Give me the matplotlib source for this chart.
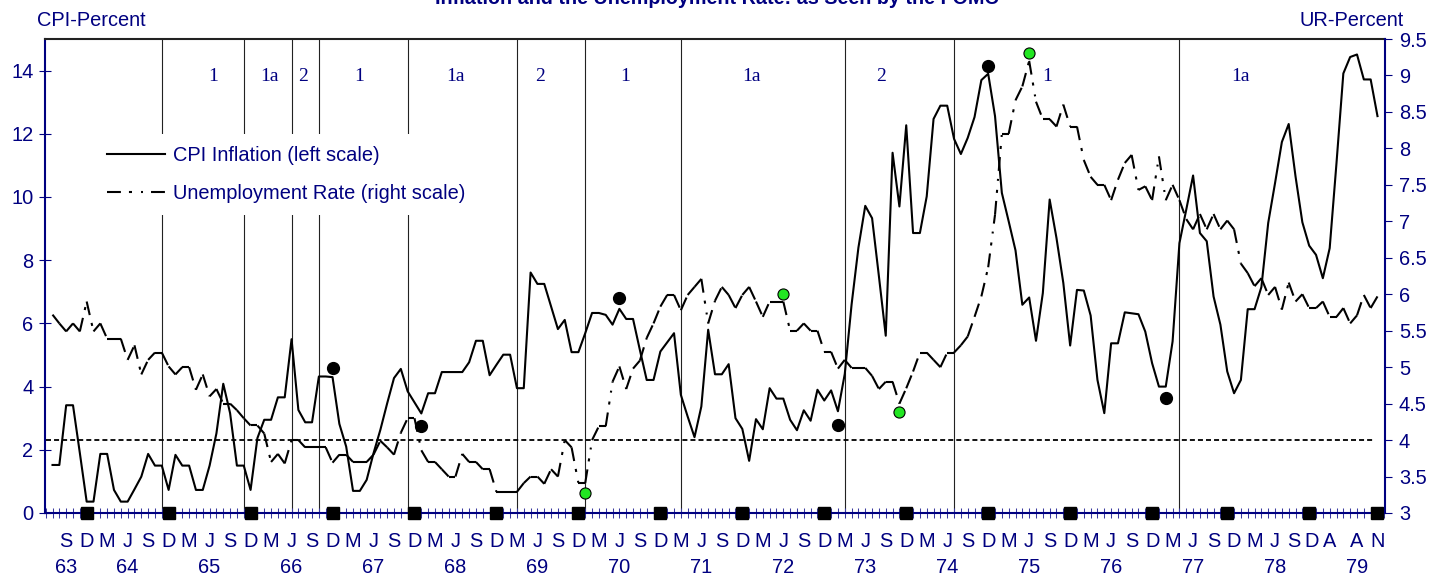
import numpy as np
import matplotlib
matplotlib.use("Agg")
import matplotlib.pyplot as plt
from matplotlib.collections import LineCollection
from matplotlib.lines import Line2D

plt.rcParams['font.family'] = ['Liberation Sans', 'DejaVu Sans']
plt.rcParams['lines.scale_dashes'] = False

navy = '#000080'
fs = 14.4

# meeting index (one tick per FOMC meeting, roughly monthly, first = Jul 63)
cpi = [1.52, 1.52, 3.41, 3.41, 1.90, 0.36, 0.36, 1.87, 1.87, 0.73,
       0.36, 0.36, 0.75, 1.15, 1.87, 1.50, 1.50, 0.73, 1.84, 1.50,
       1.50, 0.73, 0.73, 1.50, 2.52, 4.09, 3.16, 1.50, 1.50, 0.73,
       2.37, 2.95, 2.95, 3.66, 3.66, 5.50, 3.26, 2.87, 2.87, 4.32,
       4.32, 4.30, 2.82, 2.10, 0.70, 0.70, 1.05, 1.89, 2.63, 3.47,
       4.27, 4.56, 3.85, 3.50, 3.15, 3.79, 3.79, 4.46, 4.46, 4.46,
       4.46, 4.77, 5.45, 5.45, 4.36, 4.69, 5.01, 5.01, 3.95, 3.95,
       7.61, 7.25, 7.25, 6.54, 5.82, 6.11, 5.09, 5.09, 5.69, 6.33,
       6.33, 6.27, 5.96, 6.46, 6.14, 6.14, 5.16, 4.21, 4.21, 5.11,
       5.40, 5.69, 3.74, 3.05, 2.40, 3.37, 5.80, 4.39, 4.39, 4.71,
       3.00, 2.66, 1.65, 2.97, 2.65, 3.95, 3.62, 3.62, 2.95, 2.62,
       3.25, 2.92, 3.90, 3.56, 3.88, 3.22, 4.40, 6.60, 8.40, 9.72,
       9.33, 7.49, 5.61, 11.40, 9.70, 12.27, 8.86, 8.86, 10.02, 12.47,
       12.89, 12.89, 11.84, 11.36, 11.87, 12.53, 13.70, 13.90, 12.56, 10.13,
       9.23, 8.31, 6.59, 6.82, 5.45, 6.96, 9.92, 8.70, 7.28, 5.30,
       7.06, 7.04, 6.25, 4.21, 3.16, 5.37, 5.37, 6.35, 6.32, 6.29,
       5.74, 4.74, 4.00, 4.00, 5.43, 8.54, 9.60, 10.68, 8.86, 8.60,
       6.85, 5.96, 4.48, 3.79, 4.21, 6.45, 6.45, 7.15, 9.18, 10.44,
       11.74, 12.31, 10.65, 9.20, 8.46, 8.17, 7.43, 8.38, 11.08, 13.91,
       14.43, 14.51, 13.72, 13.72, 12.56]

ur = [5.72, 5.60, 5.49, 5.60, 5.49, 5.90, 5.49, 5.60, 5.39, 5.39,
      5.39, 5.10, 5.30, 4.90, 5.10, 5.20, 5.20, 5.01, 4.90, 5.00,
      5.00, 4.69, 4.90, 4.60, 4.70, 4.50, 4.50, 4.41, 4.30, 4.20,
      4.20, 4.09, 3.70, 3.81, 3.68, 4.00, 4.00, 3.90, 3.90, 3.90,
      3.90, 3.69, 3.80, 3.80, 3.70, 3.70, 3.70, 3.80, 3.99, 3.90,
      3.80, 4.10, 4.30, 4.30, 3.86, 3.70, 3.70, 3.60, 3.50, 3.50,
      3.81, 3.70, 3.70, 3.60, 3.60, 3.29, 3.29, 3.29, 3.29, 3.41,
      3.50, 3.50, 3.40, 3.60, 3.50, 4.00, 3.90, 3.41, 3.41, 4.00,
      4.19, 4.19, 4.80, 5.01, 4.70, 4.98, 5.09, 5.40, 5.60, 5.83,
      5.99, 5.99, 5.78, 5.99, 6.10, 6.21, 5.60, 5.91, 6.10, 5.99,
      5.81, 5.99, 6.10, 5.90, 5.69, 5.90, 5.90, 5.90, 5.50, 5.50,
      5.60, 5.50, 5.50, 5.21, 5.21, 4.98, 5.10, 4.99, 4.99, 4.99,
      4.88, 4.70, 4.80, 4.80, 4.50, 4.71, 4.94, 5.20, 5.20, 5.10,
      5.00, 5.20, 5.20, 5.30, 5.42, 5.69, 5.97, 6.37, 7.09, 8.20,
      8.20, 8.66, 8.85, 9.20, 8.64, 8.40, 8.40, 8.30, 8.60, 8.30,
      8.30, 7.84, 7.61, 7.50, 7.50, 7.29, 7.57, 7.80, 7.91, 7.43,
      7.48, 7.29, 7.89, 7.29, 7.50, 7.29, 7.03, 6.89, 7.10, 6.89,
      7.10, 6.89, 7.01, 6.89, 6.42, 6.29, 6.11, 6.22, 5.99, 6.10,
      5.79, 6.16, 5.90, 6.00, 5.81, 5.81, 5.90, 5.69, 5.69, 5.81,
      5.60, 5.71, 5.99, 5.81, 5.97]

meet = np.arange(1, len(cpi) + 1)

month_pos = list(range(3, 175, 3)) + [177, 180, 182.8, 185.4, 188, 192, 195]
month_lab = (['S', 'D', 'M', 'J'] * 15)[:len(range(3, 175, 3))] + ['M', 'J', 'S', 'D', 'A', 'A', 'N']
year_pos = [3] + list(range(12, 181, 12)) + [192]
year_lab = ['63', '64', '65', '66', '67', '68', '69', '70', '71', '72',
            '73', '74', '75', '76', '77', '78', '79']

dec_pos = list(range(6, 163, 12)) + [173, 185, 195]

regime_lines = [17, 29, 36, 40, 53, 69, 79, 93, 117, 133, 166]
regime_pos = [24.5, 32.7, 37.7, 45.9, 60.0, 72.4, 84.8, 103.3, 122.3, 146.7, 174.9]
regime_lab = ['1', '1a', '2', '1', '1a', '2', '1', '1a', '2', '1', '1a']

peak_x = [42, 55, 84, 116, 138, 164]
peak_y = [4.60, 2.76, 6.80, 2.79, 14.16, 3.63]
ur_turn_x = [79, 108, 125, 144]
ur_turn_y = [3.27, 6.01, 4.39, 9.31]

full_emp = 4.0

ur_dash = (10, 5.8, 2.2, 6.5, 1.4, 5.8)

fig = plt.figure(figsize=(14.45, 5.79), dpi=100)
ax = fig.add_axes([45 / 1445, 66 / 579, 1340 / 1445, 474 / 579])
ax2 = ax.twinx()

ax.set_xlim(-0.1, 196.1)
ax.set_ylim(0, 15)
ax2.set_ylim(3, 9.5)

for v in regime_lines:
    ax.axvline(v, color='#222222', lw=0.8, zorder=1)
for xp, lab in zip(regime_pos, regime_lab):
    ax.text(xp, 13.82, lab, ha='center', va='center', color=navy,
            fontsize=14, family='Liberation Serif')

ax.plot(meet, cpi, color='black', lw=1.5, zorder=3)
ax.plot(peak_x, peak_y, 'o', ms=8.5, color='black', zorder=4)
ax.plot(dec_pos, np.zeros(len(dec_pos)), 's', ms=8, color='black',
        clip_on=False, zorder=6)

pts = np.column_stack([meet, ur])
segs = np.stack([pts[:-1], pts[1:]], axis=1)
ax2.add_collection(LineCollection(segs, colors='black', linewidths=1.5,
                                  linestyles=[(0, ur_dash)], zorder=3))
ax2.hlines(full_emp, 0, 194.6, colors='black', lw=1.3,
           linestyles=[(0, (3.6, 2.2))], zorder=2)
ax2.plot(ur_turn_x, ur_turn_y, 'o', ms=8, mfc='#22e622', mec='black',
         mew=0.8, zorder=5)

# axes styling
for s in ['left', 'bottom']:
    ax.spines[s].set_color(navy)
    ax.spines[s].set_linewidth(1.5)
ax.spines['top'].set_color('#222222')
ax.spines['top'].set_linewidth(1.5)
ax.spines['right'].set_visible(False)
for s in ['left', 'bottom', 'top']:
    ax2.spines[s].set_visible(False)
ax2.spines['right'].set_color(navy)
ax2.spines['right'].set_linewidth(1.5)

ax.set_yticks(np.arange(0, 15, 2))
ax.tick_params(axis='y', direction='inout', length=8.5, width=0.8,
               color=navy, labelcolor=navy, labelsize=fs, pad=4)
ax.set_xticks(np.arange(0, 197))
ax.set_xticklabels([])
ax.tick_params(axis='x', direction='inout', length=7, width=0.75,
               color='#3a3aa0')
ax2.set_yticks(np.arange(3, 9.51, 0.5))
ax2.set_yticklabels(['%g' % t for t in np.arange(3, 9.51, 0.5)])
ax2.tick_params(axis='y', direction='out', length=5, width=0.8,
                color=navy, labelcolor=navy, labelsize=fs, pad=5)

for xp, lab in zip(month_pos, month_lab):
    ax.annotate(lab, xy=(xp, 0), xycoords=('data', 'axes fraction'),
                xytext=(0, -20.2), textcoords='offset points', ha='center',
                va='center', fontsize=fs, color=navy, annotation_clip=False)
for xp, lab in zip(year_pos, year_lab):
    ax.annotate(lab, xy=(xp, 0), xycoords=('data', 'axes fraction'),
                xytext=(0, -39.3), textcoords='offset points', ha='center',
                va='center', fontsize=fs, color=navy, annotation_clip=False)

handles = [Line2D([], [], color='black', lw=1.5),
           Line2D([], [], color='black', lw=1.5, ls=(0, ur_dash))]
leg = ax2.legend(handles, ['CPI Inflation (left scale)', 'Unemployment Rate (right scale)'],
                 loc='upper left', bbox_to_anchor=(0.0373, 0.799),
                 frameon=True, facecolor='white', edgecolor='none', framealpha=1,
                 fancybox=False, fontsize=fs, handlelength=2.9,
                 handletextpad=0.4, labelspacing=0.95, borderpad=0.6,
                 borderaxespad=0, labelcolor=navy)

fig.text(37 / 1445, 1 - 20 / 579, 'CPI-Percent', ha='left', va='center',
         fontsize=fs, color=navy)
fig.text(1404 / 1445, 1 - 20 / 579, 'UR-Percent', ha='right', va='center',
         fontsize=fs, color=navy)
# the title sits mostly above the top edge, as in the source image
fig.text(717 / 1445, 1 - 4 / 579, 'Inflation and the Unemployment Rate: as Seen by the FOMC',
         ha='center', va='baseline', fontsize=14.2, fontweight='bold', color=navy)

fig.savefig('out.png', dpi=100)
